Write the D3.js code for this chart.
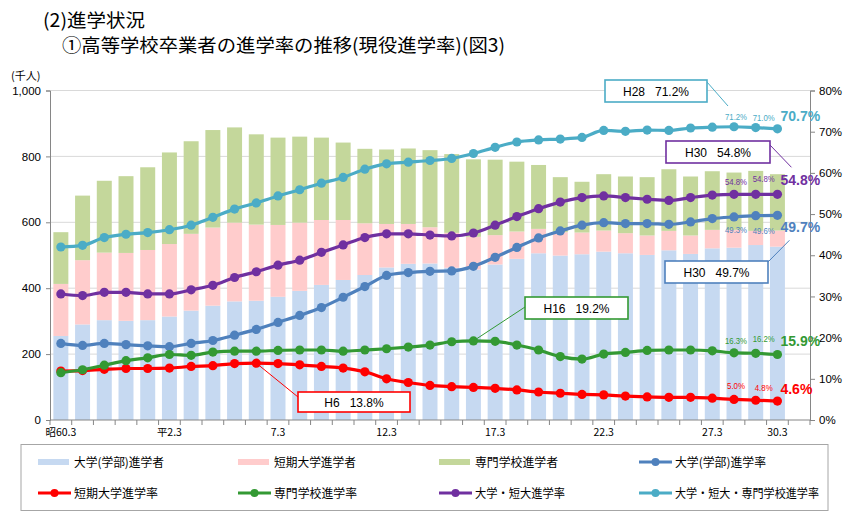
<!DOCTYPE html>
<html><head><meta charset="utf-8">
<script src="https://cdn.jsdelivr.net/npm/d3@7"></script>
<style>
body{margin:0;background:#fff;}
svg{display:block;}
text{font-family:"Liberation Sans","Noto Sans CJK JP",sans-serif;}
.jp{font-family:"Noto Sans CJK JP","Liberation Sans",sans-serif;}
</style></head>
<body>
<svg id="chart" width="850" height="519"></svg>
<script>
// ---- data ----
const categories = ["昭60.3","昭61.3","昭62.3","昭63.3","平元.3","平2.3","3.3","4.3","5.3","6.3",
  "7.3","8.3","9.3","10.3","11.3","12.3","13.3","14.3","15.3","16.3",
  "17.3","18.3","19.3","20.3","21.3","22.3","23.3","24.3","25.3","26.3",
  "27.3","28.3","29.3","30.3"];
const tickShown = ["昭60.3","平2.3","7.3","12.3","17.3","22.3","27.3","30.3"];
// counts (thousand people)
const univCount  = [255,290,303,301,303,314,332,347,360,362,374,392,410,425,440,463,474,475,462,457,472,489,506,499,503,511,506,501,515,504,521,523,531,526];
const juniorCount= [158,195,205,206,213,220,233,237,239,231,218,207,197,182,157,132,121,110,106,99,89,83,74,71,66,64,61,59,59,56,56,54,43,49];
const vocCount   = [157,196,218,233,251,278,281,296,289,274,265,261,250,235,226,226,229,234,239,235,229,212,194,167,154,171,172,177,187,179,178,174,182,171];
// rates (%)
const univRate   = [18.6,18.1,18.6,18.3,18.0,17.8,18.6,19.3,20.6,22.0,23.7,25.4,27.3,29.8,32.4,35.1,35.8,36.1,36.2,37.3,39.5,41.9,44.2,45.9,47.3,47.9,47.7,47.7,47.5,48.1,48.9,49.3,49.6,49.7];
const juniorRate = [11.9,12.0,12.3,12.5,12.5,12.6,13.0,13.2,13.7,13.8,13.7,13.4,13.0,12.6,11.7,10.0,9.1,8.4,8.1,7.9,7.7,7.3,6.8,6.5,6.2,6.1,5.8,5.6,5.5,5.5,5.3,5.0,4.8,4.6];
const vocRate    = [11.5,12.2,13.3,14.4,15.1,15.9,15.7,16.5,16.7,16.7,16.9,17.0,17.0,16.7,17.0,17.3,17.7,18.2,19.0,19.2,19.1,18.2,17.0,15.4,14.8,16.0,16.4,16.9,17.0,17.0,16.8,16.3,16.2,15.9];
const ujRate     = [30.6,30.2,31.0,31.0,30.6,30.6,31.6,32.7,34.6,36.0,37.6,38.8,40.7,42.5,44.3,45.2,45.2,44.9,44.7,45.4,47.3,49.4,51.3,52.9,54.0,54.4,54.0,53.6,53.3,54.0,54.6,54.8,54.8,54.8];
const allRate    = [42.0,42.4,44.3,45.1,45.5,46.2,47.3,49.2,51.2,52.7,54.4,55.9,57.5,58.9,60.9,62.2,62.6,63.0,63.5,64.7,66.2,67.5,68.0,68.2,68.6,70.3,70.1,70.4,70.3,70.9,71.1,71.2,71.0,70.7];
const leftTicks  = [0,200,400,600,800,1000];
const rightTicks = [0,10,20,30,40,50,60,70,80];
const barSeries = [
  {name:"大学(学部)進学者", values:univCount,   color:"#c6d9f1"},
  {name:"短期大学進学者",   values:juniorCount, color:"#ffcccc"},
  {name:"専門学校進学者",   values:vocCount,    color:"#c4d79b"}
];
const lineSeries = [
  {name:"大学(学部)進学率", values:univRate,   color:"#4f81bd"},
  {name:"短期大学進学率",   values:juniorRate, color:"#ff0000"},
  {name:"専門学校進学率",   values:vocRate,    color:"#339933"},
  {name:"大学・短大進学率", values:ujRate,     color:"#7030a0"},
  {name:"大学・短大・専門学校進学率", values:allRate, color:"#4bacc6"}
];

// ---- layout ----
const svg = d3.select("#chart");
const L = 50, R = 810, T = 90.5, B = 420;
const x = d3.scaleBand().domain([...categories, "__pad"]).range([L, R]).paddingInner(0.31).paddingOuter(0.155);
const step = (R - L) / (categories.length + 1);
const cx = i => x(categories[i]) + x.bandwidth() / 2;
const yL = d3.scaleLinear().domain([0, 1000]).range([B, T]);
const yR = d3.scaleLinear().domain([0, 80]).range([B, T]);

// titles
svg.append("text").attr("class","jp").attr("x",43).attr("y",27).attr("font-size",18.5)
  .attr("textLength",102).attr("lengthAdjust","spacingAndGlyphs").text("(2)進学状況");
svg.append("text").attr("class","jp").attr("x",62).attr("y",52).attr("font-size",18.5)
  .attr("textLength",443).attr("lengthAdjust","spacingAndGlyphs").text("①高等学校卒業者の進学率の推移(現役進学率)(図3)");
svg.append("text").attr("class","jp").attr("x",11).attr("y",80).attr("font-size",11).text("(千人)");

// gridlines
svg.append("g").selectAll("line").data(leftTicks.filter(d=>d>0)).join("line")
  .attr("x1",L).attr("x2",R).attr("y1",d=>yL(d)).attr("y2",d=>yL(d))
  .attr("stroke","#d9d9d9").attr("stroke-width",1);

// stacked bars
const stackData = categories.map((c,i)=>({c, a:univCount[i], b:juniorCount[i], v:vocCount[i]}));
const stack = d3.stack().keys(["a","b","v"])(stackData);
svg.append("g").selectAll("g").data(stack).join("g")
  .attr("fill",(d,i)=>barSeries[i].color)
  .selectAll("rect").data(d=>d).join("rect")
  .attr("x",d=>x(d.data.c)).attr("width",x.bandwidth())
  .attr("y",d=>yL(d[1])).attr("height",d=>yL(d[0])-yL(d[1]));

// axes
const axL = svg.append("g").attr("transform",`translate(${L},0)`)
  .call(d3.axisLeft(yL).tickValues(leftTicks).tickSize(4).tickFormat(d3.format(",")));
const axR = svg.append("g").attr("transform",`translate(${R},0)`)
  .call(d3.axisRight(yR).tickValues(rightTicks).tickSize(5).tickFormat(d=>d+"%"));
[axL,axR].forEach(a=>{
  a.select(".domain").attr("stroke","#868686");
  a.selectAll(".tick line").attr("stroke","#868686");
  a.selectAll(".tick text").attr("font-size",11.5).attr("fill","#000")
    .attr("font-family","Liberation Sans, sans-serif");
});
axL.selectAll(".tick text").attr("x",-9);
axR.selectAll(".tick text").attr("x",9);

// x axis
const gx = svg.append("g");
gx.append("line").attr("x1",L).attr("x2",R).attr("y1",B).attr("y2",B).attr("stroke","#868686");
gx.selectAll("line.t").data(d3.range(categories.length+2)).join("line").attr("class","t")
  .attr("x1",k=>L+k*step).attr("x2",k=>L+k*step).attr("y1",B).attr("y2",B+5).attr("stroke","#868686");
gx.selectAll("text").data(tickShown).join("text").attr("class","jp")
  .attr("x",d=>x(d)+x.bandwidth()/2).attr("y",B+16).attr("text-anchor","middle")
  .attr("font-size",10.5).text(d=>d);

// lines
const lineGen = d3.line().x((d,i)=>cx(i)).y(d=>yR(d)).curve(d3.curveMonotoneX);
const gl = svg.append("g");
lineSeries.forEach(s=>{
  gl.append("path").attr("d",lineGen(s.values)).attr("fill","none")
    .attr("stroke",s.color).attr("stroke-width",3.2);
  gl.append("g").selectAll("circle").data(s.values).join("circle")
    .attr("cx",(d,i)=>cx(i)).attr("cy",d=>yR(d)).attr("r",4.6).attr("fill",s.color);
});

// value labels
const n = categories.length;
const labelSpec = [
  {s:4, off:[-7,-7], bigOff:-8},
  {s:3, off:[-9,-12], bigOff:-9},
  {s:0, off:[16,18], bigOff:17},
  {s:2, off:[-9,-11], bigOff:-9},
  {s:1, off:[-10,-9], bigOff:-7}
];
const smallDx = [2, 8];
labelSpec.forEach(sp=>{
  const s = lineSeries[sp.s];
  [n-3,n-2].forEach((i,j)=>{
    const t = s.values[i].toFixed(1)+"%";
    svg.append("text").attr("x",cx(i)+smallDx[j]).attr("y",yR(s.values[i])+sp.off[j])
      .attr("text-anchor","middle").attr("font-size",9.5).attr("fill",s.color)
      .attr("textLength", t.length===5?22:18).attr("lengthAdjust","spacingAndGlyphs")
      .text(t);
  });
  svg.append("text").attr("x",cx(n-1)+3).attr("y",yR(s.values[n-1])+sp.bigOff)
    .attr("font-size",14).attr("font-weight","bold").attr("fill",s.color)
    .text(s.values[n-1].toFixed(1)+"%");
});

// callouts
function callout(bx,by,bw,bh,color,label,x1,y1,x2,y2){
  svg.append("line").attr("x1",x1).attr("y1",y1).attr("x2",x2).attr("y2",y2)
    .attr("stroke",color).attr("stroke-width",1);
  svg.append("rect").attr("x",bx).attr("y",by).attr("width",bw).attr("height",bh)
    .attr("fill","#fff").attr("stroke",color).attr("stroke-width",1.6);
  svg.append("text").attr("x",bx+bw/2).attr("y",by+bh/2+4.5).attr("text-anchor","middle")
    .attr("font-size",12).attr("fill","#000").attr("xml:space","preserve").text(label);
}
const iH30 = categories.indexOf("30.3");
const iH16 = categories.indexOf("16.3"), iH6 = categories.indexOf("6.3");
callout(605,80,102,22,"#4bacc6","H28   71.2%",707,82,728,106);
callout(666,141,104,22,"#7030a0","H30   54.8%",770,145,cx(iH30)+14,yR(ujRate[iH30])-27);
callout(665,261,103,22,"#4f81bd","H30   49.7%",768,262,cx(iH30)+12,yR(univRate[iH30])+25);
callout(525,297,103,22,"#339933","H16   19.2%",525,307,cx(iH16),yR(vocRate[iH16]));
callout(298,392,112,20,"#ff0000","H6   13.8%",298,397,cx(iH6),yR(juniorRate[iH6]));

// legend
svg.append("rect").attr("x",21).attr("y",444.5).attr("width",807).attr("height",66)
  .attr("fill","none").attr("stroke","#a6a6a6").attr("stroke-width",1);
const legItems = [
  {type:"bar", ...barSeries[0]},{type:"bar", ...barSeries[1]},{type:"bar", ...barSeries[2]},{type:"line", ...lineSeries[0]},
  {type:"line", ...lineSeries[1]},{type:"line", ...lineSeries[2]},{type:"line", ...lineSeries[3]},{type:"line", ...lineSeries[4]}
];
const legWidths = [90,82,83,91,84,83,90,144];
const colX = [38,238,439,639], rowY = [462,493];
legItems.forEach((it,k)=>{
  const gx0 = colX[k%4], gy = rowY[Math.floor(k/4)];
  const g = svg.append("g");
  if(it.type==="bar"){
    g.append("rect").attr("x",gx0).attr("y",gy-3).attr("width",31).attr("height",6).attr("fill",it.color);
  } else {
    g.append("line").attr("x1",gx0).attr("x2",gx0+33).attr("y1",gy).attr("y2",gy)
      .attr("stroke",it.color).attr("stroke-width",3.2);
    g.append("circle").attr("cx",gx0+16.5).attr("cy",gy).attr("r",4).attr("fill",it.color);
  }
  g.append("text").attr("class","jp").attr("x",gx0+36).attr("y",gy+4.5).attr("font-size",12)
    .attr("textLength",legWidths[k]).attr("lengthAdjust","spacingAndGlyphs")
    .attr("fill","#000").text(it.name);
});
</script>
</body></html>
